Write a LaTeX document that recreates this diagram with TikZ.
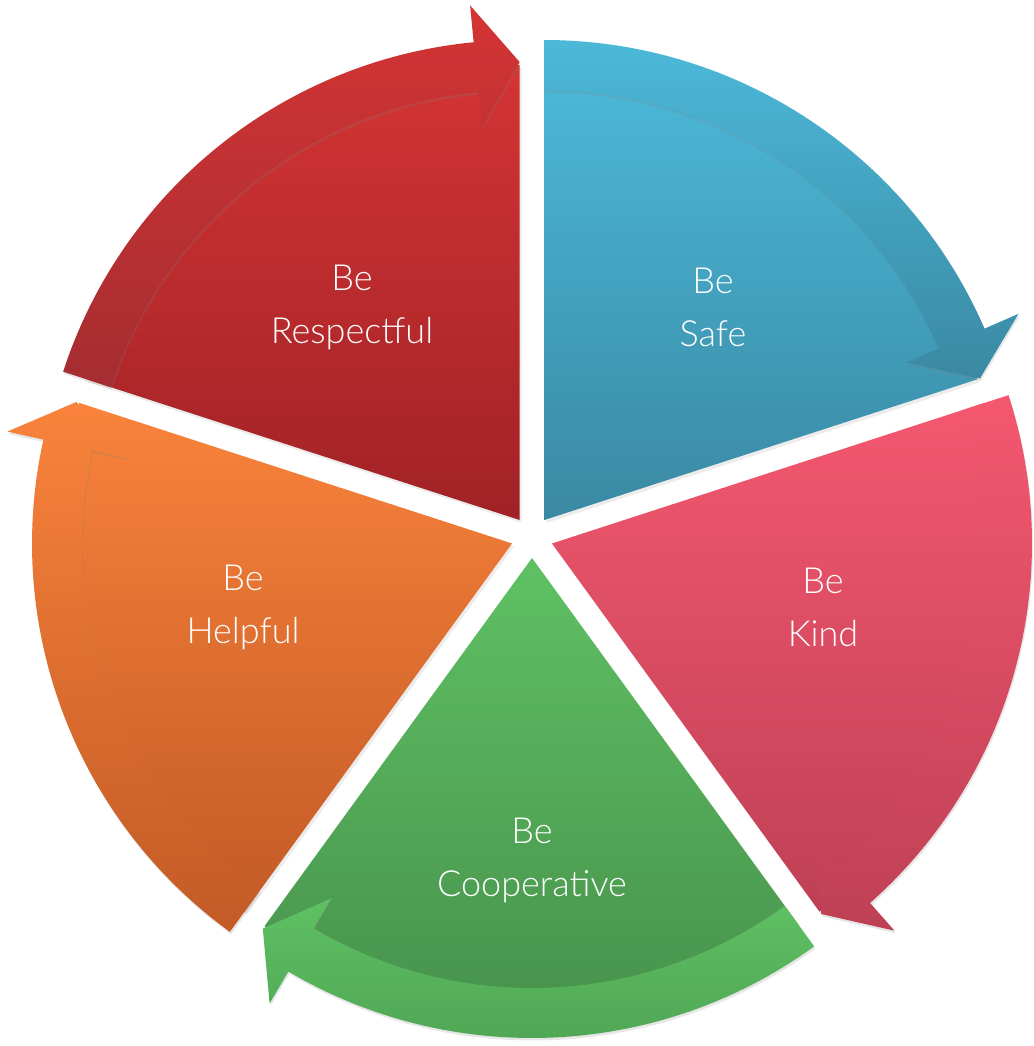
\documentclass[tikz,border=0pt]{standalone}
\usepackage{fontspec}
\setmainfont{Lato Light}
\usetikzlibrary{shadows}

\definecolor{redtop}{HTML}{D43434}
\definecolor{redbot}{HTML}{A02226}
\definecolor{bluetop}{HTML}{4CB9D9}
\definecolor{bluebot}{HTML}{3A89A3}
\definecolor{pinktop}{HTML}{F4586F}
\definecolor{pinkbot}{HTML}{BE4055}
\definecolor{greentop}{HTML}{5FC163}
\definecolor{greenbot}{HTML}{468F4B}
\definecolor{greenband}{HTML}{4DA152}
\definecolor{orangetop}{HTML}{F9833B}
\definecolor{orangebot}{HTML}{C35A26}

\tikzset{
  body/.style={drop shadow={opacity=0.15, shadow xshift=2pt, shadow yshift=-3pt}},
  band/.style={drop shadow={opacity=0.2, shadow xshift=1pt, shadow yshift=-2.5pt}},
  label/.style={text=white, align=center, font=\fontsize{36}{53}\selectfont},
}

% #1 end angle, #2/#3 body colours, #4/#5 band colours
\newcommand{\cyclepart}[5]{%
  \begin{scope}[shift={(#1+36:21)}]
    \shade[body, top color=#2, bottom color=#3] (0,0) -- (#1+72:455)
      arc[start angle=#1+72, end angle=#1, radius=455] -- cycle;
    \shade[band, top color=#4, bottom color=#5] (#1+72:480)
      arc[start angle=#1+72, end angle=#1+5.5, radius=480]
      -- (#1+5.5:517) -- (#1:458) -- (#1+5.5:395) -- (#1+5.5:430)
      arc[start angle=#1+5.5, end angle=#1+72, radius=430] -- cycle;
  \end{scope}}

\begin{document}
\begin{tikzpicture}[x=1pt,y=1pt]
  \useasboundingbox (-532,-509) rectangle (501,537);

  \cyclepart{90}{redtop}{redbot}{redtop}{redbot!95!white}
  \cyclepart{18}{bluetop}{bluebot}{bluetop}{bluebot}
  \cyclepart{-54}{pinktop}{pinkbot}{pinktop}{pinkbot}
  \cyclepart{-126}{greentop}{greenbot}{greentop}{greenband}
  \cyclepart{162}{orangetop}{orangebot}{orangetop}{orangebot}

  \node[label] (respectful) at (-180,230) {Be\\Respectful};
  \node[label] (safe) at (181,230) {Be\\Safe};
  \node[label] (kind) at (291,-70) {Be\\Kind};
  \node[label] (cooperative) at (0,-323) {Be\\Cooperative};
  \node[label] (helpful) at (-289,-70) {Be\\Helpful};
\end{tikzpicture}
\end{document}
